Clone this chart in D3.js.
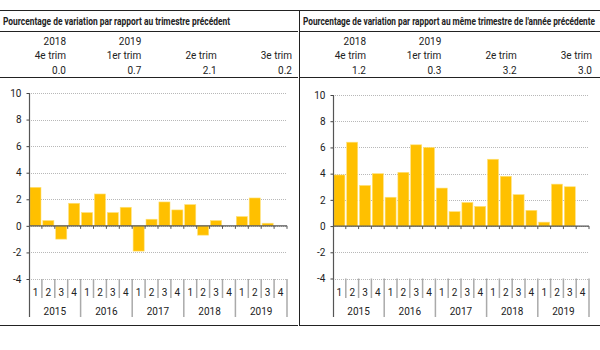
<!DOCTYPE html>
<html>
<head>
<meta charset="utf-8">
<script src="https://cdn.jsdelivr.net/npm/d3@7/dist/d3.min.js"></script>
<style>
    body { margin: 0; background: #fff; }
    svg text { font-family: "Roboto", "Liberation Sans", sans-serif; fill: #222; }
</style>
</head>
<body>
<div id="chart"></div>
<script>
// data
var years = ["2015", "2016", "2017", "2018", "2019"];
var quarters = ["1", "2", "3", "4"];
var yTicks = [-4, -2, 0, 2, 4, 6, 8, 10];

// quarter over quarter (%) - 2019 Q4 not published yet
var qoqValues = [2.9, 0.4, -1.0, 1.7, 1.0, 2.4, 1.0, 1.4, -1.9, 0.5, 1.8, 1.2, 1.6, -0.7, 0.4, 0.0, 0.7, 2.1, 0.2, null];
// same quarter previous year (%)
var yoyValues = [3.9, 6.4, 3.1, 4.0, 2.2, 4.1, 6.2, 6.0, 2.9, 1.1, 1.8, 1.5, 5.1, 3.8, 2.4, 1.2, 0.3, 3.2, 3.0, null];

// header table
var headYears = ["2018", "2019", "", ""];
var headQuarters = ["4e trim", "1er trim", "2e trim", "3e trim"];
var qoqHead = ["0.0", "0.7", "2.1", "0.2"];
var yoyHead = ["1.2", "0.3", "3.2", "3.0"];

var svg = d3.select("#chart").append("svg")
    .attr("width", 600)
    .attr("height", 350);

// table frame
svg.append("line").attr("x1", 0).attr("x2", 600).attr("y1", 10.5).attr("y2", 10.5)
    .attr("stroke", "#222").attr("stroke-width", 1);
svg.append("line").attr("x1", 299.5).attr("x2", 299.5).attr("y1", 10).attr("y2", 326)
    .attr("stroke", "#222").attr("stroke-width", 1);

QuarterBarChart = function(_svg, _data, _config) {
    this.svg0 = _svg;
    this.data = _data;
    this.config = _config;

    this.initVis();
}

QuarterBarChart.prototype.initVis = function() {
    var vis = this;
    var c = vis.config;

    vis.g = vis.svg0.append("g")
        .attr("transform", "translate(" + c.left + ",0)");

    // header rows
    vis.g.append("text")
        .attr("x", 3)
        .attr("y", 24.5)
        .attr("textLength", c.titleWidth)
        .attr("lengthAdjust", "spacingAndGlyphs")
        .style("font-size", "11px")
        .style("font-weight", "bold")
        .text(c.title);

    [31.5, 77.5].forEach(function(y) {
        vis.g.append("line")
            .attr("x1", 0).attr("x2", c.frameWidth)
            .attr("y1", y).attr("y2", y)
            .attr("stroke", "#222");
    });
    vis.g.append("line")
        .attr("x1", 0).attr("x2", c.frameWidth)
        .attr("y1", 325.5).attr("y2", 325.5)
        .attr("stroke", "#222");

    vis.head = d3.scalePoint()
        .domain(headQuarters)
        .range([66, 292]);

    var rows = [headYears, headQuarters, c.head];
    var rowY = [45, 59, 74];
    rows.forEach(function(row, i) {
        vis.g.selectAll(".head-" + i)
            .data(row)
            .enter()
            .append("text")
            .attr("class", "head-" + i)
            .attr("x", function(d, j) { return vis.head(headQuarters[j]); })
            .attr("y", rowY[i])
            .attr("text-anchor", "end")
            .style("font-size", "10px")
            .text(function(d) { return d; });
    });

    // plot area
    vis.x = d3.scaleBand()
        .domain(vis.data.map(function(d) { return d.key; }))
        .range([c.axisX, c.axisRight])
        .paddingInner(0.14)
        .paddingOuter(0.07);
    vis.y = d3.scaleLinear()
        .domain([-4, 10])
        .range([c.yBottom, c.yTop]);

    // gridlines
    vis.g.selectAll(".grid")
        .data(yTicks)
        .enter()
        .append("line")
        .attr("class", "grid")
        .attr("x1", c.axisX)
        .attr("x2", c.axisRight)
        .attr("y1", function(d) { return Math.round(vis.y(d)) + 0.5; })
        .attr("y2", function(d) { return Math.round(vis.y(d)) + 0.5; })
        .attr("stroke", "#b8b8b8")
        .attr("stroke-dasharray", "1,1");

    // bars
    vis.g.selectAll("rect")
        .data(vis.data.filter(function(d) { return d.value !== null; }))
        .enter()
        .append("rect")
        .attr("x", function(d) { return vis.x(d.key); })
        .attr("y", function(d) { return vis.y(Math.max(0, d.value)); })
        .attr("width", vis.x.bandwidth())
        .attr("height", function(d) { return Math.abs(vis.y(d.value) - vis.y(0)); })
        .attr("fill", "#ffc000")
        .attr("stroke", "#ffe27a")
        .attr("stroke-width", 0.6);

    // y axis
    vis.yAxis = d3.axisLeft(vis.y)
        .tickValues(yTicks)
        .tickSize(3)
        .tickFormat(function(d) { return String(d); });
    var ya = vis.g.append("g")
        .attr("class", "y-axis axis")
        .attr("transform", "translate(" + (c.axisX + 0.5) + ",0)")
        .call(vis.yAxis);
    ya.select(".domain").remove();
    ya.selectAll("line").attr("stroke", "#444");
    ya.selectAll("text")
        .attr("x", -8)
        .style("font-size", "10px")
        .style("fill", "#222")
        .style("font-family", null);
    vis.g.append("line")
        .attr("x1", c.axisX + 0.5).attr("x2", c.axisX + 0.5)
        .attr("y1", c.yTop).attr("y2", 317)
        .attr("stroke", "#555").attr("stroke-width", 1.2);

    // zero line with small ticks at the band edges
    var edges = d3.range(vis.data.length + 1).map(function(i) {
        return c.axisX + i * vis.x.step();
    });
    vis.g.append("line")
        .attr("x1", c.axisX).attr("x2", c.axisRight)
        .attr("y1", vis.y(0)).attr("y2", vis.y(0))
        .attr("stroke", "#555").attr("stroke-width", 1.2);
    vis.g.selectAll(".zero-tick")
        .data(edges.slice(1))
        .enter()
        .append("line")
        .attr("class", "zero-tick")
        .attr("x1", function(d) { return d; }).attr("x2", function(d) { return d; })
        .attr("y1", vis.y(0)).attr("y2", vis.y(0) + 3)
        .attr("stroke", "#555");

    // category axis: quarters then years
    var catTop = vis.y(-4);
    vis.g.selectAll(".sep")
        .data(edges.slice(1))
        .enter()
        .append("line")
        .attr("class", "sep")
        .attr("x1", function(d) { return d; }).attr("x2", function(d) { return d; })
        .attr("y1", catTop)
        .attr("y2", function(d, i) { return (i + 1) % 4 === 0 ? 317 : 298; })
        .attr("stroke", "#aaa")
        .attr("stroke-width", 1.5);

    vis.g.selectAll(".q-label")
        .data(vis.data)
        .enter()
        .append("text")
        .attr("class", "q-label")
        .attr("x", function(d) { return vis.x(d.key) + vis.x.bandwidth() / 2; })
        .attr("y", 295.5)
        .attr("text-anchor", "middle")
        .style("font-size", "10px")
        .text(function(d) { return d.quarter; });

    vis.g.selectAll(".y-label")
        .data(years)
        .enter()
        .append("text")
        .attr("class", "y-label")
        .attr("x", function(d, i) { return c.axisX + (i * 4 + 2) * vis.x.step(); })
        .attr("y", 314.5)
        .attr("text-anchor", "middle")
        .style("font-size", "10px")
        .text(function(d) { return d; });
}

function buildData(values) {
    var out = [];
    years.forEach(function(y, i) {
        quarters.forEach(function(q, j) {
            out.push({ key: y + "-" + q, year: y, quarter: q, value: values[i * 4 + j] });
        });
    });
    return out;
}

new QuarterBarChart(svg, buildData(qoqValues), {
    left: 0, frameWidth: 298, axisX: 29, axisRight: 287, yTop: 93, yBottom: 279, titleWidth: 227,
    title: "Pourcentage de variation par rapport au trimestre précédent", head: qoqHead
});
new QuarterBarChart(svg, buildData(yoyValues), {
    left: 300, frameWidth: 300, axisX: 33, axisRight: 289, yTop: 95, yBottom: 278.5, titleWidth: 292,
    title: "Pourcentage de variation par rapport au même trimestre de l'année précédente", head: yoyHead
});
</script>
</body>
</html>
